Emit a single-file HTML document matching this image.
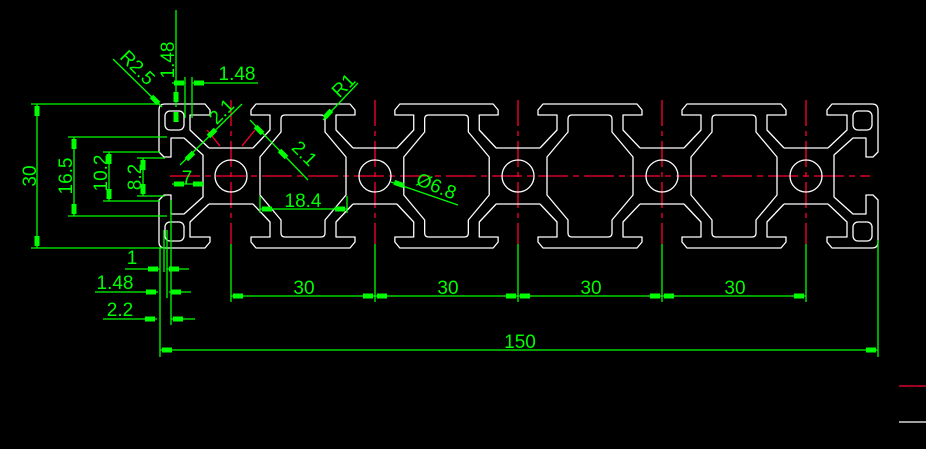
<!DOCTYPE html>
<html><head><meta charset="utf-8"><style>
html,body{margin:0;padding:0;background:#000;}
svg{display:block}
text{font-family:"Liberation Sans",sans-serif;fill:#00ff00;font-size:19px;}
</style></head><body>
<svg width="926" height="449" viewBox="0 0 926 449" xmlns="http://www.w3.org/2000/svg">
<defs>
<g id="seg" fill="none" stroke="#fff" stroke-width="1.3" stroke-linejoin="round">
<path d="M22,-28 L39,-46 L39,-61 L20,-61 L20,-66 L25,-72 L119,-72 L124,-66 L124,-61 L105,-61 L105,-46 L122,-28"/>
<path d="M22,28 L39,46 L39,61 L20,61 L20,66 L25,72 L119,72 L124,66 L124,61 L105,61 L105,46 L122,28"/>
<path d="M54,-61 L90,-61 Q94,-61 94,-57 L94,-44 L115,-19 L115,19 L94,44 L94,57 Q94,61 90,61 L54,61 Q50,61 50,57 L50,44 L29,19 L29,-19 L50,-44 L50,-57 Q50,-61 54,-61 Z"/>
</g>
<g id="node" fill="none" stroke="#fff" stroke-width="1.3">
<circle cx="0" cy="0" r="16"/>
<path d="M-22,-28 L22,-28 M-22,28 L22,28"/>
</g>
<g id="end" fill="none" stroke="#fff" stroke-width="1.3" stroke-linejoin="round">
<path d="M22,-28 L41,-46 L41,-61 L21,-61 L21,-66 L26,-72 L66,-72 Q72,-72 72,-66 L72,-24 L67,-19 L60,-19 L60,-38 L47,-38 L28,-21 L28,21 L47,38 L60,38 L60,19 L67,19 L72,24 L72,66 Q72,72 66,72 L26,72 L21,66 L21,61 L41,61 L41,46 L22,28"/>
<rect x="47" y="-65" width="19" height="19" rx="5"/>
<rect x="47" y="46" width="19" height="19" rx="5"/>
</g>
</defs>

<g stroke="#ff0033" stroke-width="1.3" fill="none">
<line x1="170" y1="176" x2="870" y2="176" stroke-dasharray="30 5 6 5"/>
<g stroke-dasharray="26 5 5 5">
<line x1="231" y1="100" x2="231" y2="244"/>
<line x1="375" y1="100" x2="375" y2="244"/>
<line x1="518" y1="100" x2="518" y2="244"/>
<line x1="662" y1="100" x2="662" y2="244"/>
<line x1="806" y1="100" x2="806" y2="244"/>
</g>
<line x1="207" y1="130" x2="220" y2="146" />
<line x1="255" y1="130" x2="242" y2="146" />
<line x1="899" y1="386" x2="926" y2="386"/>
</g>
<line x1="899" y1="422" x2="926" y2="422" stroke="#fff" stroke-width="1.3"/>

<use href="#seg" transform="translate(231,176)"/>
<use href="#seg" transform="translate(375,176) scale(0.993,1)"/>
<use href="#seg" transform="translate(518,176)"/>
<use href="#seg" transform="translate(662,176)"/>
<use href="#node" transform="translate(231,176)"/>
<use href="#node" transform="translate(375,176)"/>
<use href="#node" transform="translate(518,176)"/>
<use href="#node" transform="translate(662,176)"/>
<use href="#node" transform="translate(806,176)"/>
<use href="#end" transform="translate(806,176)"/>
<use href="#end" transform="translate(231,176) scale(-1,1)"/>

<g stroke="#00ff00" stroke-width="1.3" fill="none">
<line x1="31" y1="104" x2="160" y2="104"/>
<line x1="31" y1="248" x2="165" y2="248"/>
<line x1="37" y1="104" x2="37" y2="248"/>
<line x1="68" y1="137" x2="167" y2="137"/>
<line x1="68" y1="216" x2="167" y2="216"/>
<line x1="74" y1="137" x2="74" y2="216"/>
<line x1="103" y1="152" x2="160" y2="152"/>
<line x1="103" y1="201" x2="160" y2="201"/>
<line x1="109" y1="152" x2="109" y2="201"/>
<line x1="137" y1="158" x2="165" y2="158"/>
<line x1="137" y1="196" x2="165" y2="196"/>
<line x1="143" y1="158" x2="143" y2="196"/>
<line x1="160" y1="248" x2="160" y2="357"/>
<line x1="164" y1="230" x2="164" y2="272"/>
<line x1="167" y1="230" x2="167" y2="298"/>
<line x1="171" y1="200" x2="171" y2="325"/>
<line x1="125" y1="269" x2="160" y2="269"/><line x1="167" y1="269" x2="189" y2="269"/>
<line x1="95" y1="292" x2="158" y2="292"/><line x1="169" y1="292" x2="191" y2="292"/>
<line x1="103" y1="319" x2="157" y2="319"/><line x1="171" y1="319" x2="195" y2="319"/>
<line x1="231" y1="244" x2="231" y2="302"/>
<line x1="375" y1="244" x2="375" y2="302"/>
<line x1="518" y1="244" x2="518" y2="302"/>
<line x1="662" y1="244" x2="662" y2="302"/>
<line x1="806" y1="244" x2="806" y2="302"/>
<line x1="231" y1="296" x2="806" y2="296"/>
<line x1="878" y1="240" x2="878" y2="357"/>
<line x1="160" y1="350" x2="878" y2="350"/>
<line x1="176" y1="10" x2="176" y2="107"/>
<line x1="185" y1="77" x2="185" y2="118"/>
<line x1="192" y1="77" x2="192" y2="118"/>
<line x1="172" y1="83" x2="185" y2="83"/>
<line x1="192" y1="83" x2="258" y2="83"/>
<line x1="113" y1="59" x2="162" y2="107"/>
<line x1="358" y1="83" x2="323" y2="120"/>
<line x1="180" y1="165" x2="242" y2="104"/>
<line x1="250" y1="120" x2="308" y2="180"/>
<line x1="172" y1="184" x2="204" y2="184"/>
<line x1="260" y1="196" x2="260" y2="213"/>
<line x1="347" y1="196" x2="347" y2="213"/>
<line x1="260" y1="209" x2="347" y2="209"/>
<line x1="391" y1="182" x2="458" y2="205"/>
</g>
<g fill="#00ff00">
<rect x="34.5" y="106" width="5" height="10"/><rect x="34.5" y="236" width="5" height="10"/>
<rect x="71.5" y="139" width="5" height="10"/><rect x="71.5" y="204" width="5" height="10"/>
<rect x="106.5" y="154" width="5" height="10"/><rect x="106.5" y="189" width="5" height="10"/>
<rect x="140.5" y="160" width="5" height="10"/><rect x="140.5" y="184" width="5" height="10"/>
<rect x="148" y="266.5" width="10" height="5"/><rect x="169" y="266.5" width="10" height="5"/>
<rect x="146" y="289.5" width="10" height="5"/><rect x="171" y="289.5" width="10" height="5"/>
<rect x="145" y="316.5" width="10" height="5"/><rect x="173" y="316.5" width="10" height="5"/>
<rect x="233" y="293.5" width="10" height="5"/><rect x="363" y="293.5" width="10" height="5"/>
<rect x="377" y="293.5" width="10" height="5"/><rect x="506" y="293.5" width="10" height="5"/>
<rect x="520" y="293.5" width="10" height="5"/><rect x="650" y="293.5" width="10" height="5"/>
<rect x="664" y="293.5" width="10" height="5"/><rect x="794" y="293.5" width="10" height="5"/>
<rect x="162" y="347.5" width="10" height="5"/><rect x="866" y="347.5" width="10" height="5"/>
<rect x="173.5" y="92" width="5" height="10"/><rect x="173.5" y="112" width="5" height="10"/>
<rect x="174" y="80.5" width="10" height="5"/><rect x="194" y="80.5" width="10" height="5"/>
<rect x="174" y="181.5" width="10" height="5"/><rect x="193" y="181.5" width="10" height="5"/>
<rect x="262" y="206.5" width="10" height="5"/><rect x="335" y="206.5" width="10" height="5"/>
<rect x="-5" y="-2.5" width="10" height="5" transform="translate(155,100) rotate(45)"/>
<rect x="-5" y="-2.5" width="10" height="5" transform="translate(328,114) rotate(-47)"/>
<rect x="-5" y="-2.5" width="10" height="5" transform="translate(212,133) rotate(-45)"/>
<rect x="-5" y="-2.5" width="10" height="5" transform="translate(190,156) rotate(-45)"/>
<rect x="-5" y="-2.5" width="10" height="5" transform="translate(259,130) rotate(45)"/>
<rect x="-5" y="-2.5" width="10" height="5" transform="translate(283,154) rotate(45)"/>
<rect x="-5" y="-2.5" width="10" height="5" transform="translate(399,184) rotate(19)"/>
</g>
<text transform="translate(36,176) rotate(-90)" text-anchor="middle">30</text>
<text transform="translate(72,176) rotate(-90)" text-anchor="middle">16.5</text>
<text transform="translate(107,173) rotate(-90)" text-anchor="middle">10.2</text>
<text transform="translate(141,177) rotate(-90)" text-anchor="middle">8.2</text>
<text transform="translate(174,60) rotate(-90)" text-anchor="middle">1.48</text>
<text x="237" y="80" text-anchor="middle">1.48</text>
<text x="132" y="264" text-anchor="middle">1</text>
<text x="115" y="289" text-anchor="middle">1.48</text>
<text x="120" y="316" text-anchor="middle">2.2</text>
<text x="304" y="294" text-anchor="middle">30</text>
<text x="448" y="294" text-anchor="middle">30</text>
<text x="591" y="294" text-anchor="middle">30</text>
<text x="735" y="294" text-anchor="middle">30</text>
<text x="520" y="348" text-anchor="middle">150</text>
<text x="303" y="207" text-anchor="middle">18.4</text>
<text x="187" y="184" text-anchor="middle">7</text>
<text transform="translate(133,72) rotate(45)" text-anchor="middle">R2.5</text>
<text transform="translate(348,90) rotate(-45)" text-anchor="middle">R1</text>
<text transform="translate(226,116) rotate(-45)" text-anchor="middle">2.1</text>
<text transform="translate(300,158) rotate(45)" text-anchor="middle">2.1</text>
<text transform="translate(434,192) rotate(22)" text-anchor="middle">Ø6.8</text>
</svg>
</body></html>
